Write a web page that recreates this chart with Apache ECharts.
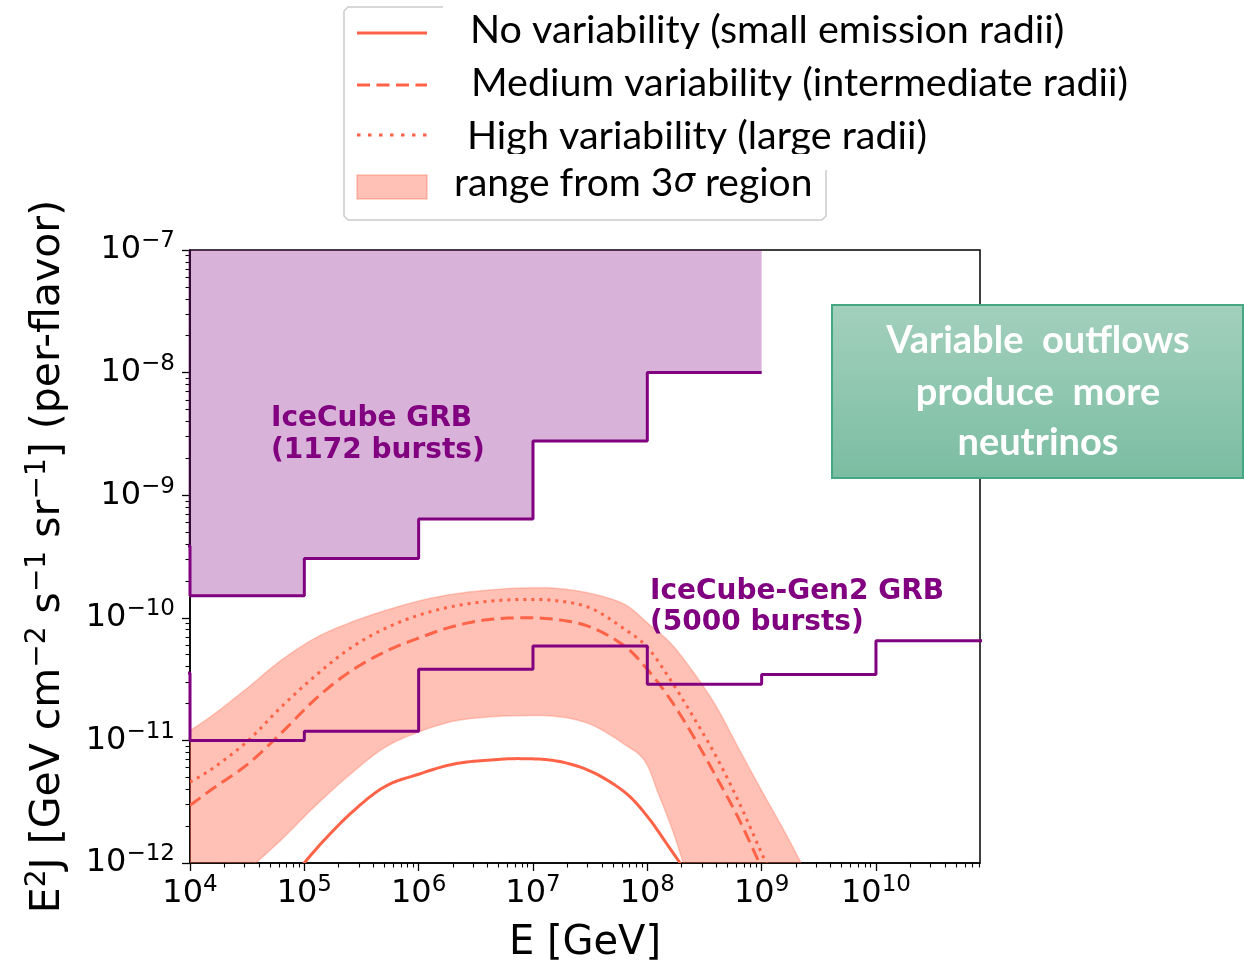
<!DOCTYPE html>
<html>
<head>
<meta charset="utf-8">
<script src="https://cdn.jsdelivr.net/npm/echarts@6/dist/echarts.min.js"></script>
<style>
  html, body { margin: 0; padding: 0; background: #fff; }
  #chart { width: 1245px; height: 961px; }
</style>
</head>
<body>
<div id="chart"></div>
<script>
// ---- Tick exponents (decades) ----
const xTickExponents = [4, 5, 6, 7, 8, 9, 10];
const yTickExponents = [-12, -11, -10, -9, -8, -7];

// ---- Model spectra: E^2 J per flavour vs neutrino energy E [GeV] ----
const bandUpperE = [1e4, 1.6e4, 3.2e4, 6.3e4, 1.26e5, 2.5e5, 5e5, 1e6, 2e6, 4e6, 7.9e6, 1.6e7, 3.2e7, 6.3e7, 1e8, 1.6e8, 2.5e8, 4e8, 6.3e8, 1e9, 1.6e9, 2.5e9, 3.2e9];
const bandUpper  = [1.20e-11, 1.62e-11, 2.69e-11, 4.52e-11, 6.87e-11, 9.12e-11, 1.14e-10, 1.37e-10, 1.56e-10, 1.68e-10, 1.75e-10, 1.74e-10, 1.58e-10, 1.29e-10, 9.1e-11, 6.2e-11, 3.66e-11, 1.9e-11, 8.6e-12, 3.9e-12, 1.78e-12, 8.1e-13, 5.4e-13];

const bandLowerE = [1e4, 1.6e4, 3.2e4, 6.3e4, 1.26e5, 2.5e5, 5e5, 1e6, 2e6, 4e6, 7.9e6, 1.6e7, 3.2e7, 6.3e7, 9.5e7, 1.26e8, 1.6e8, 2e8, 2.5e8];
const bandLower  = [3.2e-13, 4.7e-13, 8.7e-13, 1.55e-12, 2.95e-12, 5.25e-12, 8.7e-12, 1.17e-11, 1.43e-11, 1.55e-11, 1.59e-11, 1.57e-11, 1.35e-11, 9.3e-12, 6.8e-12, 3.6e-12, 2.04e-12, 1.1e-12, 5.6e-13];

const modelE = [1e4, 1.6e4, 3.2e4, 6.3e4, 1.26e5, 2.5e5, 5e5, 1e6, 2e6, 4e6, 7.9e6, 1.6e7, 3.2e7, 6.3e7, 1e8, 1.6e8, 2.5e8, 4e8, 6.3e8, 1e9, 1.6e9];
const mediumVar = [2.95e-12, 4.07e-12, 6.4e-12, 1.15e-11, 2.19e-11, 3.63e-11, 5.25e-11, 6.84e-11, 8.5e-11, 9.66e-11, 1.0e-10, 9.7e-11, 8.4e-11, 5.9e-11, 3.8e-11, 2.14e-11, 1.1e-11, 5.07e-12, 2.3e-12, 9.1e-13, 3.5e-13];
const highVar   = [4.57e-12, 5.96e-12, 9.9e-12, 1.88e-11, 3.39e-11, 5.62e-11, 8.13e-11, 1.05e-10, 1.24e-10, 1.36e-10, 1.41e-10, 1.38e-10, 1.2e-10, 8.1e-11, 5.75e-11, 3.1e-11, 1.58e-11, 7.4e-12, 3.16e-12, 1.2e-12, 4.5e-13];

const noVarE = [6.3e4, 1.26e5, 2.5e5, 5e5, 1e6, 2e6, 4e6, 7.9e6, 1.6e7, 3.2e7, 6.3e7, 1e8, 1.6e8, 2.5e8];
const noVar  = [5.9e-13, 1.29e-12, 2.5e-12, 4.17e-12, 5.3e-12, 6.4e-12, 6.9e-12, 7.1e-12, 6.8e-12, 5.6e-12, 3.8e-12, 2.4e-12, 1.29e-12, 7.1e-13];

// ---- Stacking limits (bin edges, value holds until the next edge) ----
const icecubeE     = [1e3, 1e4, 1e5, 1e6, 1e7, 1e8, 1e9];
const icecubeLimit = [3.85e-10, 1.51e-10, 3.05e-10, 6.4e-10, 2.77e-9, 1.0e-8, 1.0e-8];

const gen2E     = [1e3, 1e4, 1e5, 1e6, 1e7, 1e8, 1e9, 1e10, 1e11];
const gen2Limit = [3.55e-11, 1.0e-11, 1.19e-11, 3.8e-11, 5.89e-11, 2.87e-11, 3.44e-11, 6.5e-11, 6.5e-11];

// ---- Helpers ----
const lg = Math.log10;
const toPairs = (xs, ys) => xs.map((x, i) => [lg(x), lg(ys[i])]);
const X_MIN = 4, X_MAX = 10.91, Y_MIN = -12, Y_MAX = -7;
const minorX = [], minorY = [];
for (let n = 4; n <= 10; n++) for (let k = 2; k <= 9; k++) minorX.push(n + lg(k));
for (let n = -12; n < -7; n++) for (let k = 2; k <= 9; k++) minorY.push(n + lg(k));

const TOMATO = '#ff6347';
const PURPLE = '#800080';

function powLabel(v) {
  const e = Math.round(v);
  return '{b|10}{s|' + (e < 0 ? '\u2212' + (-e) : e) + '}';
}
const tickRich = {
  b: { fontFamily: 'DejaVu Sans', fontSize: 32, lineHeight: 40, color: '#000' },
  s: { fontFamily: 'DejaVu Sans', fontSize: 23, lineHeight: 23, verticalAlign: 'top', color: '#000' }
};

// Catmull-Rom densification in pixel space
function spline(pts, steps) {
  const out = [];
  const n = pts.length;
  for (let i = 0; i < n - 1; i++) {
    const p0 = pts[Math.max(i - 1, 0)], p1 = pts[i], p2 = pts[i + 1], p3 = pts[Math.min(i + 2, n - 1)];
    for (let t = 0; t < steps; t++) {
      const s = t / steps, s2 = s * s, s3 = s2 * s;
      const f = (a, b, c, d) => 0.5 * (2 * b + (-a + c) * s + (2 * a - 5 * b + 4 * c - d) * s2 + (-a + 3 * b - 3 * c + d) * s3);
      out.push([f(p0[0], p1[0], p2[0], p3[0]), f(p0[1], p1[1], p2[1], p3[1])]);
    }
  }
  out.push(pts[n - 1]);
  return out;
}

// Smooth model curve drawn through the cartesian coordinate system
function curveSeries(name, xs, ys, lineStyle) {
  const pairs = toPairs(xs, ys);
  return {
    name: name,
    type: 'custom',
    clip: true,
    z: 3,
    data: pairs,
    renderItem: function (params, api) {
      if (params.dataIndex !== 0) return null;
      const pts = spline(pairs.map(p => api.coord(p)), 10);
      return {
        type: 'polyline',
        shape: { points: pts },
        style: Object.assign({ fill: null, stroke: TOMATO, lineWidth: 3, lineCap: 'butt', lineJoin: 'round' }, lineStyle)
      };
    }
  };
}

const upperPairs = toPairs(bandUpperE, bandUpper);
const lowerPairs = toPairs(bandLowerE, bandLower);

const chart = echarts.init(document.getElementById('chart'), null, { renderer: 'canvas' });

const textStyleCommon = { textAlign: 'left', textVerticalAlign: 'middle', align: 'left', verticalAlign: 'middle' };

const option = {
  animation: false,
  backgroundColor: '#fff',
  grid: {
    left: 190, top: 250, width: 790, height: 613,
    show: true, borderColor: '#000', borderWidth: 1.5,
    containLabel: false, outerBoundsMode: 'none'
  },
  xAxis: [
    {
      type: 'value', min: X_MIN, max: X_MAX, interval: 1, position: 'bottom',
      axisLine: { show: true, onZero: false, lineStyle: { color: '#000', width: 1.5 } },
      axisTick: { show: true, inside: false, length: 8, customValues: xTickExponents, lineStyle: { color: '#000', width: 1.3 } },
      axisLabel: { show: true, customValues: xTickExponents, margin: 11, formatter: powLabel, rich: tickRich },
      splitLine: { show: false },
      name: 'E [GeV]', nameLocation: 'middle', nameGap: 61,
      nameTextStyle: { fontFamily: 'DejaVu Sans', fontSize: 40, color: '#000' }
    },
    {
      type: 'value', min: X_MIN, max: X_MAX, position: 'bottom',
      axisLine: { show: false, onZero: false },
      axisTick: { show: true, inside: false, length: 4.5, customValues: minorX, lineStyle: { color: '#000', width: 1.1 } },
      axisLabel: { show: false },
      splitLine: { show: false }
    }
  ],
  yAxis: [
    {
      type: 'value', min: Y_MIN, max: Y_MAX, interval: 1, position: 'left',
      axisLine: { show: true, onZero: false, lineStyle: { color: '#000', width: 1.5 } },
      axisTick: { show: true, inside: false, length: 8, customValues: yTickExponents, lineStyle: { color: '#000', width: 1.3 } },
      axisLabel: { show: true, customValues: yTickExponents, margin: 15, formatter: powLabel, rich: tickRich },
      splitLine: { show: false },
      name: 'E{s|2}J [GeV cm{s|\u22122} s{s|\u22121} sr{s|\u22121}] (per-flavor)',
      nameLocation: 'middle', nameRotate: 90, nameGap: 118,
      nameTextStyle: {
        fontFamily: 'DejaVu Sans', fontSize: 41, lineHeight: 48, color: '#000',
        rich: { s: { fontFamily: 'DejaVu Sans', fontSize: 28, lineHeight: 28, verticalAlign: 'top', color: '#000' } }
      }
    },
    {
      type: 'value', min: Y_MIN, max: Y_MAX, position: 'left',
      axisLine: { show: false, onZero: false },
      axisTick: { show: true, inside: false, length: 4.5, customValues: minorY, lineStyle: { color: '#000', width: 1.1 } },
      axisLabel: { show: false },
      splitLine: { show: false }
    }
  ],
  series: [
    {
      name: 'range from 3\u03c3 region',
      type: 'custom',
      clip: true,
      z: 1,
      data: upperPairs,
      renderItem: function (params, api) {
        if (params.dataIndex !== 0) return null;
        const up = spline(upperPairs.map(p => api.coord(p)), 8);
        const lo = spline(lowerPairs.map(p => api.coord(p)), 8);
        return {
          type: 'polygon',
          shape: { points: up.concat(lo.reverse()) },
          style: { fill: 'rgba(255,99,71,0.4)', stroke: 'rgba(255,99,71,0.3)', lineWidth: 1.5 }
        };
      }
    },
    curveSeries('No variability (small emission radii)', noVarE, noVar, {}),
    curveSeries('Medium variability (intermediate radii)', modelE, mediumVar, { lineDash: [13, 6.5] }),
    curveSeries('High variability (large radii)', modelE, highVar, { lineDash: [3, 5] }),
    {
      name: 'IceCube GRB (1172 bursts)',
      type: 'line', step: 'end', symbol: 'none', clip: true, z: 4,
      data: toPairs(icecubeE, icecubeLimit),
      lineStyle: { color: PURPLE, width: 3 },
      areaStyle: { origin: 'end', color: 'rgba(128,0,128,0.3)', opacity: 1 }
    },
    {
      name: 'IceCube-Gen2 GRB (5000 bursts)',
      type: 'line', step: 'end', symbol: 'none', clip: true, z: 4,
      data: toPairs(gen2E, gen2Limit),
      lineStyle: { color: PURPLE, width: 3 }
    }
  ],
  graphic: [
    // legend frame
    {
      type: 'polyline', z: 50, silent: true,
      shape: { points: [[443, 7], [348, 7], [344, 11], [344, 216], [348, 220], [822, 220], [826, 216], [826, 170]] },
      style: { stroke: '#cccccc', lineWidth: 1.5, fill: null }
    },
    // legend keys
    { type: 'line', z: 50, silent: true, shape: { x1: 357, y1: 33, x2: 427, y2: 33 }, style: { stroke: TOMATO, lineWidth: 3 } },
    { type: 'line', z: 50, silent: true, shape: { x1: 357, y1: 85, x2: 427, y2: 85 }, style: { stroke: TOMATO, lineWidth: 3, lineDash: [13, 6.5] } },
    { type: 'line', z: 50, silent: true, shape: { x1: 357, y1: 135, x2: 427, y2: 135 }, style: { stroke: TOMATO, lineWidth: 3, lineDash: [3.5, 7.5] } },
    { type: 'rect', z: 50, silent: true, shape: { x: 357, y: 175, width: 70, height: 24 }, style: { fill: 'rgba(255,99,71,0.4)', stroke: 'rgba(255,99,71,0.35)', lineWidth: 1.5 } },
    // legend labels
    { type: 'text', z: 50, silent: true, style: Object.assign({ text: 'No variability (small emission radii)', x: 470, y: 30, fill: '#000', fontFamily: 'Lato', fontSize: 39.5 }, textStyleCommon) },
    { type: 'text', z: 50, silent: true, style: Object.assign({ text: 'Medium variability (intermediate radii)', x: 471, y: 83, fill: '#000', fontFamily: 'Lato', fontSize: 39.5 }, textStyleCommon) },
    { type: 'text', z: 50, silent: true, style: Object.assign({ text: 'High variability (large radii)', x: 467, y: 136.5, fill: '#000', fontFamily: 'Lato', fontSize: 39.5 }, textStyleCommon) },
    {
      type: 'text', z: 50, silent: true,
      style: Object.assign({
        text: 'range from 3{i|\u03c3} region', x: 454, y: 183.5, fill: '#000', fontFamily: 'Lato', fontSize: 39,
        rich: { i: { fontFamily: 'DejaVu Sans', fontStyle: 'italic', fontSize: 34, fill: '#000', color: '#000' } }
      }, textStyleCommon)
    },
    // the first three label boxes are clipped just under the baseline
    { type: 'rect', z: 51, silent: true, shape: { x: 440, y: 49, width: 720, height: 12 }, style: { fill: '#fff' } },
    { type: 'rect', z: 51, silent: true, shape: { x: 440, y: 100.5, width: 720, height: 12 }, style: { fill: '#fff' } },
    { type: 'rect', z: 51, silent: true, shape: { x: 440, y: 154, width: 720, height: 9 }, style: { fill: '#fff' } },

    // experiment labels
    {
      type: 'text', z: 60, silent: true,
      style: { text: 'IceCube GRB\n(1172 bursts)', x: 271, y: 403, fill: PURPLE, fontFamily: 'DejaVu Sans', fontWeight: 'bold', fontSize: 28, lineHeight: 32, textAlign: 'left', textVerticalAlign: 'top', align: 'left', verticalAlign: 'top' }
    },
    {
      type: 'text', z: 60, silent: true,
      style: { text: 'IceCube-Gen2 GRB\n(5000 bursts)', x: 650, y: 576.5, fill: PURPLE, fontFamily: 'DejaVu Sans', fontWeight: 'bold', fontSize: 28, lineHeight: 31, textAlign: 'left', textVerticalAlign: 'top', align: 'left', verticalAlign: 'top' }
    },

    // callout box
    {
      type: 'rect', z: 100, silent: true,
      shape: { x: 832, y: 305, width: 411, height: 173 },
      style: {
        fill: new echarts.graphic.LinearGradient(0, 0, 0, 1, [
          { offset: 0, color: '#a3d0be' },
          { offset: 1, color: '#7bbda2' }
        ]),
        stroke: '#45a882', lineWidth: 2
      }
    },
    { type: 'text', z: 101, silent: true, style: { text: 'Variable  outflows', x: 1038, y: 341, fill: '#fff', fontFamily: 'Lato', fontWeight: 'bold', fontSize: 38, textAlign: 'center', textVerticalAlign: 'middle', align: 'center', verticalAlign: 'middle' } },
    { type: 'text', z: 101, silent: true, style: { text: 'produce  more', x: 1038, y: 393, fill: '#fff', fontFamily: 'Lato', fontWeight: 'bold', fontSize: 38, textAlign: 'center', textVerticalAlign: 'middle', align: 'center', verticalAlign: 'middle' } },
    { type: 'text', z: 101, silent: true, style: { text: 'neutrinos', x: 1038, y: 443, fill: '#fff', fontFamily: 'Lato', fontWeight: 'bold', fontSize: 38, textAlign: 'center', textVerticalAlign: 'middle', align: 'center', verticalAlign: 'middle' } }
  ]
};

chart.setOption(option);
</script>
</body>
</html>
